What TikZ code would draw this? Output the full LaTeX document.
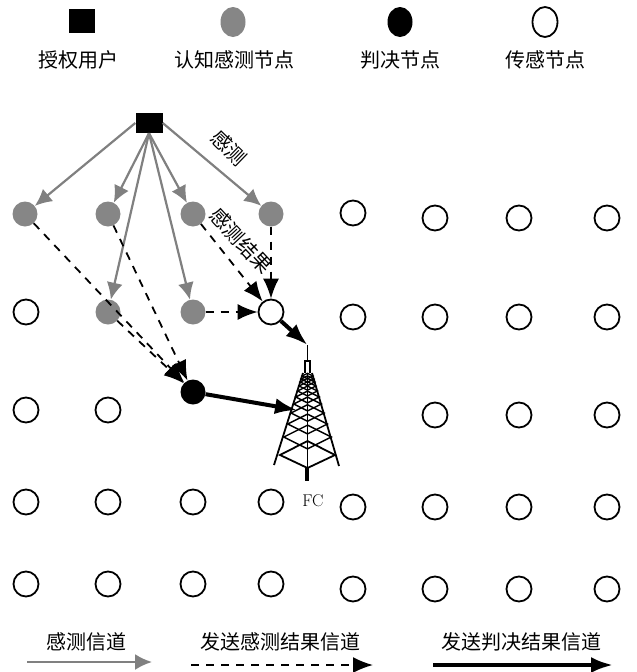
\documentclass[tikz,border=0pt]{standalone}
\usepackage{fontspec}
\newfontfamily\cjk{Noto Sans CJK SC}
\usetikzlibrary{shapes.geometric,positioning,arrows.meta}
\tikzset{
    sensenode/.style={circle,fill=gray!95,inner sep=0pt,minimum size=25pt},
    plainnode/.style={circle,draw,line width=1.8pt,fill=white,inner sep=0pt,minimum size=25pt},
    decisionnode/.style={circle,fill=black,inner sep=0pt,minimum size=25pt},
    keyshape/.style={ellipse,inner sep=0pt,minimum width=25pt,minimum height=30pt},
    caption/.style={font=\cjk\fontsize{20}{23}\selectfont,inner sep=0pt},
    sensearrow/.style={draw=gray,line width=2.2pt,-{Latex[length=17pt,width=16pt]}},
    reportarrow/.style={line width=1.8pt,dash pattern=on 8pt off 7pt,-{Latex[length=20pt,width=16pt]}},
    decisionarrow/.style={line width=4pt,-{Latex[length=22pt,width=16pt]}}
}
\begin{document}
\begin{tikzpicture}[x=1pt,y=-1pt]
    \useasboundingbox (0,0) rectangle (637,672);

    % key at the top
    \node[fill=black,minimum width=26pt,minimum height=24pt,inner sep=0pt] (keypu) at (82,21) {};
    \node[keyshape,fill=gray!95] (keysense) at (233,22) {};
    \node[keyshape,fill=black] (keydecision) at (400,22) {};
    \node[keyshape,draw,line width=1.8pt] (keyplain) at (545,22) {};
    \node[caption] (keypulabel) at (78,60) {授权用户};
    \node[caption] (keysenselabel) at (234,60) {认知感测节点};
    \node[caption] (keydecisionlabel) at (400,60) {判决节点};
    \node[caption] (keyplainlabel) at (545,60) {传感节点};

    % primary user and sensing nodes
    \node[fill=black,minimum width=27pt,minimum height=20pt,inner sep=0pt] (pu) at (149,123) {};
    \foreach \name/\x/\y in {sa/25/214, sb/108/214, sc/193/214, sd/271/214, se/108/312, sf/193/312} {
        \node[sensenode] (\name) at (\x,\y) {};
    }
    \node[decisionnode] (dec) at (193,392) {};
    \node[plainnode] (rep) at (271,312) {};

    % the other sensors
    \foreach \x/\y in {353/213, 435/218, 519/218, 607/218,
                       26/312, 353/317, 435/317, 519/317, 607/317,
                       26/410, 108/410, 435/415, 519/415, 607/415,
                       26/502, 108/502, 193/502, 271/502, 353/507, 435/507, 519/507, 607/507,
                       26/584, 108/584, 193/584, 271/584, 353/589, 435/589, 519/589, 607/589} {
        \node[plainnode] (n\x-\y) at (\x,\y) {};
    }

    % tower
    \coordinate (fctop) at (307.5,345);
    \coordinate (fcleft) at (297,410);
    \draw[line width=1.8pt] (fctop) -- (307.5,362);
    \draw[line width=1.2pt] (305,373) -- (305,361) -- (310,361) -- (310,373);
    \draw[line width=1.8pt] (303,373) -- (274,465);
    \draw[line width=1.8pt] (312,373) -- (339,466);
    \draw[line width=1.5pt] (307.5,373) -- (307.5,470);
    \draw[line width=3.2pt] (307,468) -- (307,481);
    \foreach \y in {376,379,382,386,391,397,404,413,424,437} {
        \pgfmathsetmacro{\w}{4.5+(\y-373)*0.30}
        \draw[line width=1.4pt] (307.5-\w,\y) -- (307.5,\y+\w/2) -- (307.5+\w,\y) -- (307.5,\y-\w/2) -- cycle;
    }
    \draw[line width=1.8pt] (280,455) -- (307.5,468) -- (335,455) -- (307.5,441) -- cycle;
    \node[font=\fontsize{17}{19}\selectfont,inner sep=0pt] (fc) at (313,501) {FC};

    % sensing channels
    \draw[sensearrow] (pu.west) -- (sa);
    \draw[sensearrow] (pu.south) -- (sb);
    \draw[sensearrow] (pu.south) -- (sc);
    \draw[sensearrow] (pu.east) -- (sd);
    \draw[sensearrow] (pu.south) -- (se);
    \draw[sensearrow] (pu.south) -- (sf);

    % reports
    \draw[reportarrow] (sa) -- (dec);
    \draw[reportarrow] (sb) -- (dec);
    \draw[reportarrow] (se) -- (dec);
    \draw[reportarrow] (sc) -- (rep);
    \draw[reportarrow] (sd) -- (rep);
    \draw[reportarrow] (sf) -- (rep);

    % decisions
    \draw[decisionarrow] (rep) -- (fctop);
    \draw[decisionarrow] (dec) -- (fcleft);

    \node[caption,rotate=-44] (senselabel) at (229,148) {感测};
    \node[caption,rotate=-47] (resultlabel) at (241,241) {感测结果};

    % key at the bottom
    \node[caption] (keychannel) at (86,642) {感测信道};
    \node[caption] (keyreport) at (280,642) {发送感测结果信道};
    \node[caption] (keyresult) at (521,642) {发送判决结果信道};
    \coordinate (ca) at (27,662);
    \coordinate (cb) at (152,662);
    \coordinate (cc) at (191,665);
    \coordinate (cd) at (373,665);
    \coordinate (ce) at (433,665);
    \coordinate (cf) at (613,665);
    \draw[sensearrow] (ca) -- (cb);
    \draw[reportarrow] (cc) -- (cd);
    \draw[decisionarrow] (ce) -- (cf);
\end{tikzpicture}
\end{document}
